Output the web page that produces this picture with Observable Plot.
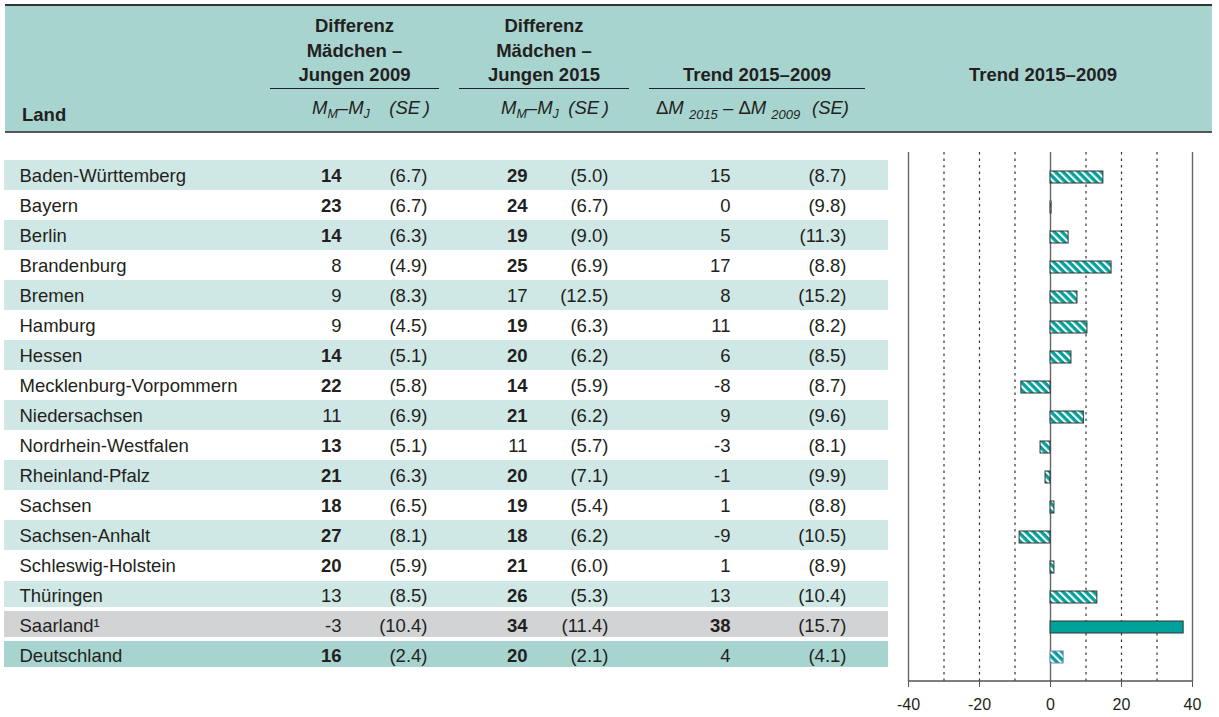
<!DOCTYPE html>
<html><head><meta charset="utf-8">
<script src="https://cdn.jsdelivr.net/npm/d3@7"></script>
<script src="https://cdn.jsdelivr.net/npm/@observablehq/plot@0.6"></script>
<style>
body{margin:0;background:#fff;}
#wrap{position:relative;width:1219px;height:717px;font-family:"Liberation Sans",Arial,sans-serif;color:#231f20;overflow:hidden}
.abs{position:absolute;white-space:nowrap}
.hb{font-weight:bold;font-size:18.5px;line-height:24.5px;text-align:center}
.it{font-style:italic;font-size:18.5px;line-height:24.5px}
.sub{font-size:12.5px;vertical-align:-4px}
.sub2{font-size:13px;vertical-align:-5px;font-style:italic}
.hrule{position:absolute;height:0;border-top:1.3px solid #231f20}
#plotA,#plotB{position:absolute;left:0;top:0}
</style></head>
<body><div id="wrap">
<div class="abs" style="left:5px;top:4px;width:1207px;height:125px;background:#a8d4d0;border-top:2px solid #333;border-bottom:2px solid #555"></div>
<div id="head"></div>
<div class="abs it" style="left:312px;top:96px">M<span class="sub">M</span>–M<span class="sub">J</span></div>
<div class="abs it" style="right:789px;top:96px">(SE&thinsp;)</div>
<div class="abs it" style="left:501px;top:96px">M<span class="sub">M</span>–M<span class="sub">J</span></div>
<div class="abs it" style="right:610px;top:96px">(SE&thinsp;)</div>
<div class="abs it" style="left:656px;top:96px"><span style="font-style:normal">Δ</span>M <span class="sub2">2015</span> – <span style="font-style:normal">Δ</span>M <span class="sub2">2009</span></div>
<div class="abs it" style="right:370px;top:96px">(SE)</div>
<div id="plotA"></div>
<div id="plotB"></div>
</div>
<script>
// ---------- data ----------
const lands = ["Baden-Württemberg","Bayern","Berlin","Brandenburg","Bremen","Hamburg","Hessen","Mecklenburg-Vorpommern","Niedersachsen","Nordrhein-Westfalen","Rheinland-Pfalz","Sachsen","Sachsen-Anhalt","Schleswig-Holstein","Thüringen","Saarland","Deutschland"];
const footnote = [0,0,0,0,0,0,0,0,0,0,0,0,0,0,0,1,0];
const diff2009 = [14,23,14,8,9,9,14,22,11,13,21,18,27,20,13,-3,16];
const se2009   = [6.7,6.7,6.3,4.9,8.3,4.5,5.1,5.8,6.9,5.1,6.3,6.5,8.1,5.9,8.5,10.4,2.4];
const sig2009  = [1,1,1,0,0,0,1,1,0,1,1,1,1,1,0,0,1];
const diff2015 = [29,24,19,25,17,19,20,14,21,11,20,19,18,21,26,34,20];
const se2015   = [5.0,6.7,9.0,6.9,12.5,6.3,6.2,5.9,6.2,5.7,7.1,5.4,6.2,6.0,5.3,11.4,2.1];
const sig2015  = [1,1,1,1,0,1,1,1,1,0,1,1,1,1,1,1,1];
const trend    = [15,0,5,17,8,11,6,-8,9,-3,-1,1,-9,1,13,38,4];
const seTrend  = [8.7,9.8,11.3,8.8,15.2,8.2,8.5,8.7,9.6,8.1,9.9,8.8,10.5,8.9,10.4,15.7,4.1];
const sigTrend = [0,0,0,0,0,0,0,0,0,0,0,0,0,0,0,1,0];
const trendBar = [14.9,0.3,5.1,17.2,7.6,10.4,5.9,-8.2,9.4,-2.8,-1.4,1.1,-8.7,1.1,13.2,37.5,3.7];
const axisTicks = [-40,-20,0,20,40];
const gridDotted = [-30,-20,-10,10,20,30];
const gridSolid = [-40,0,40];
const landHeader = "Land";
const groupTitles = [["Differenz","Mädchen –","Jungen 2009"],["Differenz","Mädchen –","Jungen 2015"],["Trend 2015–2009"]];
const chartTitle = "Trend 2015–2009";

// ---------- header layout ----------
const head = document.getElementById("head");
const groupBoxes = [{left:270,width:169},{left:459,width:170},{left:649,width:216}];
groupTitles.forEach((lines, g) => {
  const b = groupBoxes[g];
  const div = document.createElement("div");
  div.className = "abs hb";
  div.style.left = b.left + "px"; div.style.width = b.width + "px";
  div.style.top = (82 - 18.66 - 24.5 * (lines.length - 1)) + "px";
  div.innerHTML = lines.map(l => `<div>${l}</div>`).join("");
  head.appendChild(div);
  const r = document.createElement("div");
  r.className = "hrule"; r.style.left = b.left + "px"; r.style.width = b.width + "px"; r.style.top = "88px";
  head.appendChild(r);
});
{
  const t = document.createElement("div");
  t.className = "abs hb"; t.style.left = "943px"; t.style.width = "200px"; t.style.top = (82 - 18.66) + "px";
  t.textContent = chartTitle; head.appendChild(t);
  const l = document.createElement("div");
  l.className = "abs hb"; l.style.left = "22px"; l.style.top = (122 - 18.66) + "px"; l.style.textAlign = "left";
  l.textContent = landHeader; head.appendChild(l);
}

// ---------- rows ----------
const rows = lands.map((land, i) => ({
  land, i,
  label: land + (footnote[i] ? "¹" : ""),
  d09: String(diff2009[i]), se09: `(${se2009[i].toFixed(1)})`, b09: !!sig2009[i],
  d15: String(diff2015[i]), se15: `(${se2015[i].toFixed(1)})`, b15: !!sig2015[i],
  tr: String(trend[i]), seTr: `(${seTrend[i].toFixed(1)})`, bTr: !!sigTrend[i],
  bar: trendBar[i]
}));
const nLast = lands.length - 1;
const yOpts = {domain: lands, range: [159, 670], padding: 0, axis: null};
const ink = "#231f20";
const fs = 18.5;
const font = "Liberation Sans, Arial, sans-serif";
const colX = {land: 19, d09: 341, se09: 427, d15: 527, se15: 608, tr: 730, seTr: 846};
const rowFill = d => d.i === nLast ? "#a8d4d0" : d.i === nLast - 1 ? "#d1d3d4" : "#d0e8e5";

function txt(field, x, anchor, opts = {}) {
  return Plot.text(rows, {y: "land", text: field, frameAnchor: "left", dx: x, dy: 1,
    textAnchor: anchor, fontSize: fs, fill: ink, ...opts});
}
function numCol(field, boldField, x) {
  return [
    txt(field, x, "end", {filter: d => d[boldField], fontWeight: "bold"}),
    txt(field, x, "end", {filter: d => !d[boldField]})
  ];
}

const plotA = Plot.plot({
  width: 1219, height: 717,
  marginLeft: 0, marginRight: 331, marginTop: 0, marginBottom: 0,
  y: yOpts,
  color: {type: "identity"},
  style: {background: "transparent", fontFamily: font, color: ink, overflow: "visible"},
  marks: [
    Plot.cell(rows, {filter: d => d.i % 2 === 0 && d.i < nLast - 2, y: "land", fill: "#d0e8e5", insetLeft: 4}),
    Plot.cell(rows, {filter: d => d.i >= nLast - 2, y: "land", fill: rowFill, insetLeft: 4, insetTop: 1, insetBottom: 3}),
    txt("label", colX.land, "start"),
    ...numCol("d09", "b09", colX.d09),
    txt("se09", colX.se09, "end"),
    ...numCol("d15", "b15", colX.d15),
    txt("se15", colX.se15, "end"),
    ...numCol("tr", "bTr", colX.tr),
    txt("seTr", colX.seTr, "end")
  ]
});
document.getElementById("plotA").appendChild(plotA);

// ---------- bar chart ----------
const teal = "#00a19a";
function defsMark() {
  const g = document.createElementNS("http://www.w3.org/2000/svg", "defs");
  g.innerHTML = `<pattern id="hatch" patternUnits="userSpaceOnUse" width="5.4" height="5.4" patternTransform="rotate(-45)"><rect width="5.4" height="5.4" fill="${teal}"/><rect width="2.1" height="5.4" fill="#ffffff"/></pattern>`;
  return g;
}
function axisLine(index, scales, values, dims) {
  const l = document.createElementNS("http://www.w3.org/2000/svg", "line");
  const y = dims.height - dims.marginBottom;
  l.setAttribute("x1", scales.x(axisTicks[0]));
  l.setAttribute("x2", scales.x(axisTicks[axisTicks.length - 1]));
  l.setAttribute("y1", y); l.setAttribute("y2", y);
  l.setAttribute("stroke", "#555"); l.setAttribute("stroke-width", 1.3);
  return l;
}
const barStroke = d => d.i === nLast ? "#7d82c2" : "#333333";

const plotB = Plot.plot({
  width: 1219, height: 717,
  marginLeft: 908, marginRight: 27, marginTop: 152, marginBottom: 36,
  x: {domain: [axisTicks[0], axisTicks[axisTicks.length - 1]]},
  y: yOpts,
  color: {type: "identity"},
  style: {background: "transparent", fontFamily: font, color: ink, overflow: "visible"},
  marks: [
    defsMark,
    Plot.ruleX(gridDotted, {stroke: "#333", strokeWidth: 1.2, strokeDasharray: "2.5,4"}),
    Plot.ruleX(gridSolid, {stroke: "#666", strokeWidth: 1.4}),
    Plot.barX(rows, {filter: d => !d.bTr, x: "bar", y: "land", fill: "url(#hatch)", stroke: barStroke,
      strokeWidth: 1, insetTop: 11, insetBottom: 7}),
    Plot.barX(rows, {filter: d => d.bTr, x: "bar", y: "land", fill: teal, stroke: "#333",
      strokeWidth: 1, insetTop: 11, insetBottom: 7}),
    axisLine,
    Plot.axisX({ticks: axisTicks, anchor: "bottom", tickSize: 6, tickPadding: 11, fontSize: 16,
      tickFormat: d => String(d), stroke: "#555", fill: ink, label: null})
  ]
});
document.getElementById("plotB").appendChild(plotB);
</script>
</body></html>
